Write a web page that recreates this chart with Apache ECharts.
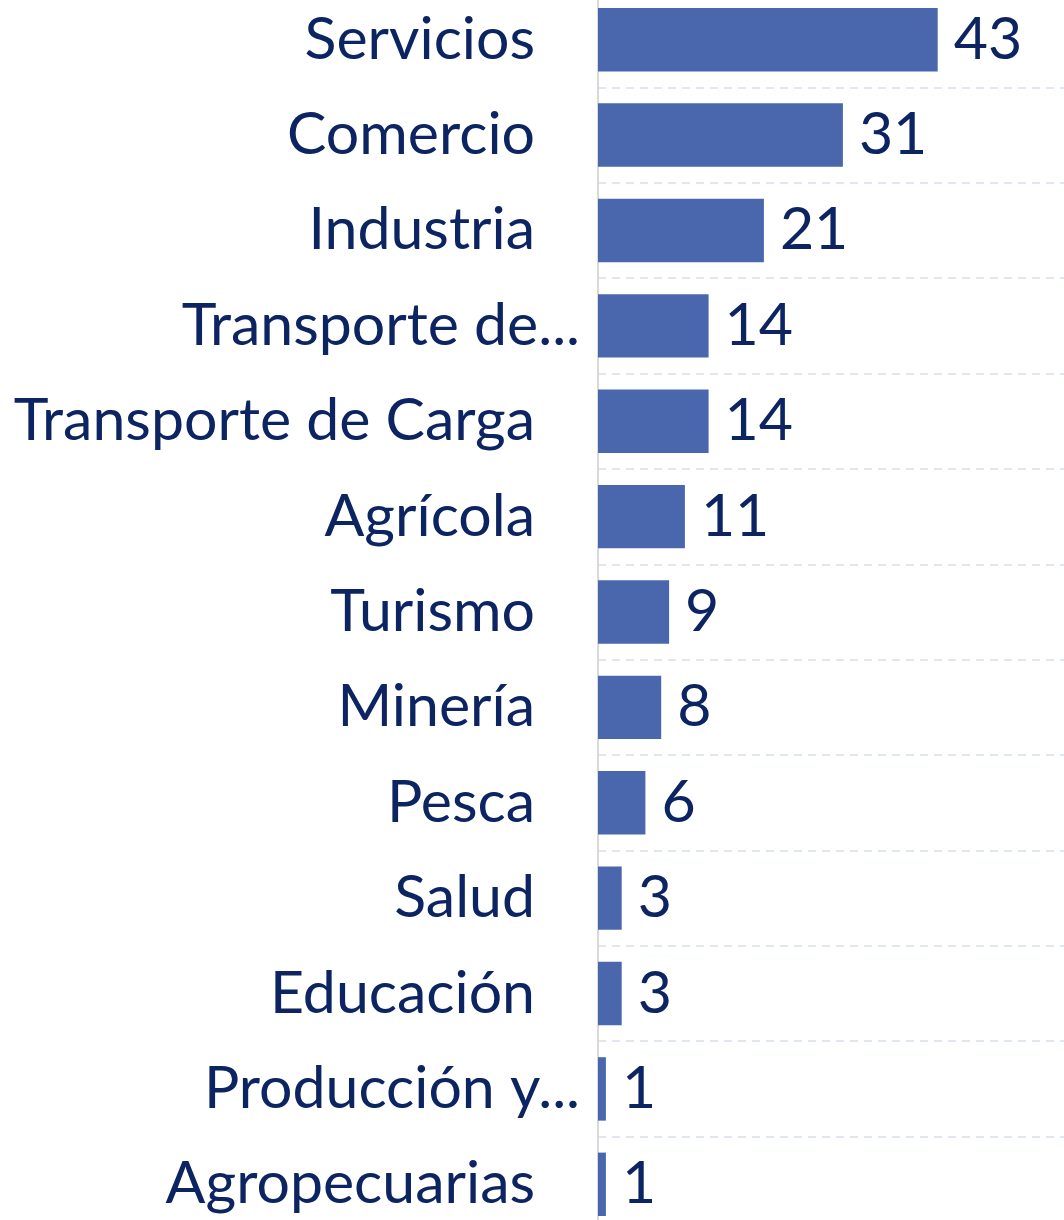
<!DOCTYPE html>
<html>
<head>
<meta charset="utf-8">
<style>
html,body{margin:0;padding:0;background:#fff;overflow:hidden;width:1064px;height:1220px;}
#chart{position:absolute;left:0;top:-8px;width:1090px;height:1242px;}
</style>
<script src="https://cdn.jsdelivr.net/npm/echarts@6/dist/echarts.min.js"></script>
</head>
<body>
<div id="chart"></div>
<script>
const categories = ["Servicios","Comercio","Industria","Transporte de...","Transporte de Carga","Agrícola","Turismo","Minería","Pesca","Salud","Educación","Producción y...","Agropecuarias"];
const values = [43,31,21,14,14,11,9,8,6,3,3,1,1];
const truncated = [false,false,false,true,false,false,false,false,false,false,false,true,false];

const FONT = 'Lato';
const TXT = '#0c2461';
const chart = echarts.init(document.getElementById('chart'), null, {renderer:'canvas'});
chart.setOption({
  animation:false,
  backgroundColor:'#ffffff',
  grid:{left:598, top:0, width:474, height:1240, containLabel:false},
  xAxis:{type:'value', min:0, max:60, show:false, splitLine:{show:false}},
  yAxis:{
    type:'category', inverse:true, data:categories,
    axisLine:{show:true, lineStyle:{color:'#d9d9d9', width:2}},
    axisTick:{show:false},
    splitLine:{show:true, lineStyle:{color:'#d6e0f0', type:[8,6], width:1.5}},
    axisLabel:{
      margin:18,
      formatter:function(v){
        const i = categories.indexOf(v);
        return truncated[i] ? '{t|'+v+'}' : '{n|'+v+'}';
      },
      rich:{
        t:{fontFamily:FONT, fontSize:59, color:TXT, padding:[0,0,0,0]},
        n:{fontFamily:FONT, fontSize:59, color:TXT, padding:[0,45,0,0]}
      }
    }
  },
  series:[{
    type:'bar', data:values, barCategoryGap:'33.5%',
    itemStyle:{color:'#4a67ad'},
    label:{show:true, position:'right', distance:16, fontFamily:FONT, fontSize:59, color:TXT}
  }]
});
</script>
</body>
</html>
